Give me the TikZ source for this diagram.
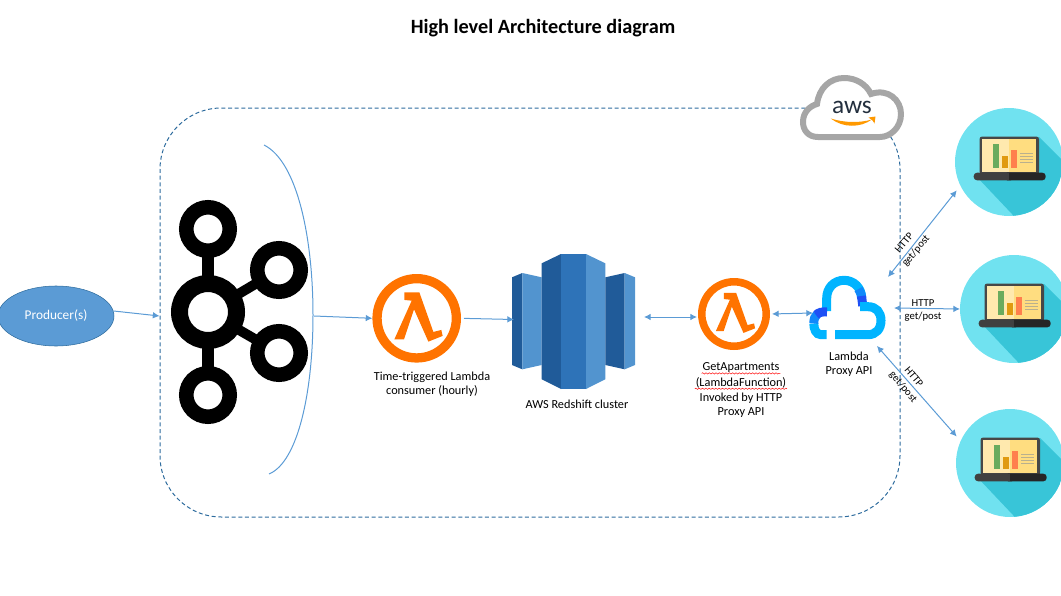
\documentclass[tikz,border=0pt]{standalone}
\usepackage{fontspec}
\setmainfont{Carlito}
\usetikzlibrary{positioning,
        shapes.geometric,
        arrows.meta,
        decorations.pathmorphing}
\usepackage{xcolor}

\definecolor{flowblue}{HTML}{5B9BD5}
\definecolor{boxblue}{HTML}{2E6C9E}
\definecolor{lambdaorange}{HTML}{FF7300}
\definecolor{rsdark}{HTML}{205B99}
\definecolor{rsmid}{HTML}{2E73B8}
\definecolor{rslight}{HTML}{5294CF}
\definecolor{proxycyan}{HTML}{00B4FF}
\definecolor{proxydeep}{HTML}{1E50F5}
\definecolor{proxymid}{HTML}{1088FA}
\definecolor{discteal}{HTML}{70E2F0}
\definecolor{shadeteal}{HTML}{38C5D8}
\definecolor{screenpale}{HTML}{FFE9AE}
\definecolor{screendeep}{HTML}{FFDD80}
\definecolor{bargreen}{HTML}{6AAB5E}
\definecolor{barorange}{HTML}{E09A10}
\definecolor{barred}{HTML}{FF7F4D}
\definecolor{barlines}{HTML}{B9B08E}
\definecolor{awsgrey}{HTML}{A6A6A6}
\definecolor{awsink}{HTML}{232F3E}
\definecolor{awssmile}{HTML}{FF9900}

\tikzset{
    flow/.style={color=flowblue,line width=0.75pt,-{Latex[length=5pt,width=5pt]}},
    bothflow/.style={color=flowblue,line width=0.75pt,{Latex[length=5pt,width=5pt]}-{Latex[length=5pt,width=5pt]}},
    iconlabel/.style={align=center,inner sep=0.5pt,font=\fontsize{9.2}{10.5}\selectfont},
    httplabel/.style={inner sep=0pt,font=\fontsize{8}{9}\selectfont},
    spellmark/.style={color=red,line width=0.35pt,decorate,decoration={snake,amplitude=0.5pt,segment length=2.5pt}},
    iconspot/.style={circle,inner sep=0pt,outer sep=0pt},
    kafkaring/.style={circle,draw=black,fill=white,inner sep=0pt,line width=#1},
    kafkalink/.style={black,shorten <=-2pt,shorten >=-2pt}
}

% lambda disc: name, x, y, radius
\newcommand{\lambdaicon}[4]{
    \node [iconspot,minimum size=#4*1.5pt] (#1) at (#2,#3) {};
    \begin{scope}[shift={(#2,#3)},scale=#4]
        \fill [lambdaorange,even odd rule] (0,0) circle (1) (0,0) circle (0.79);
        \fill [lambdaorange] (-.278,-.586) -- (.060,-.586) -- (.376,.308) -- (.556,.263) -- (.586,.398)
            -- (.263,.526) -- (-.060,-.203) -- (-.286,.474) -- (-.504,.474) -- (-.113,-.398) -- (-.278,-.414) -- cycle;
    \end{scope}
}

% laptop disc: name, x, y
\newcommand{\laptopicon}[3]{
    \node [iconspot,fill=discteal,minimum size=81pt] (#1) at (#2,#3) {};
    \begin{scope}[shift={(#2,#3)}]
        \begin{scope}
            \clip (0,0) circle (54);
            \fill [shadeteal] (-32,15) -- (30,-25) -- (75,20) -- (75,70) -- (20,70) -- cycle;
        \end{scope}
        \fill [black!72,rounded corners=2pt] (-29.5,-25.5) rectangle (30,12);
        \fill [black!72] (-29.5,8) rectangle (30,12);
        \fill [screenpale] (-26.7,-22.7) rectangle (0.3,10);
        \fill [screendeep] (0.3,-22.7) rectangle (27.3,10);
        \fill [bargreen] (-16.3,-18) rectangle (-10,6.3);
        \fill [barorange] (-7,-5.7) rectangle (-0.7,6.3);
        \fill [barred] (1.7,-11.7) rectangle (8,6.3);
        \foreach \liney in {-9,-5.7,-2.7,0}
            \draw [barlines,line width=0.75pt] (11,\liney) -- (23.7,\liney);
        \fill [black!75,rounded corners=2.5pt] (-35.3,10.7) rectangle (5,18.3);
        \fill [black!85,rounded corners=2.5pt] (-5,10.7) rectangle (36.7,18.3);
        \fill [black!75] (-5,10.7) rectangle (0.3,18.3);
    \end{scope}
}

\begin{document}
\begin{tikzpicture}[x=0.75pt,y=-0.75pt]
    \useasboundingbox (0,0) rectangle (1061,596);

    \node [font=\fontsize{15.2}{17}\selectfont\bfseries] (title) at (543,28.5) {High level Architecture diagram};

    \node [draw=boxblue,line width=0.75pt,dash pattern=on 3pt off 2pt,rounded corners=46pt,
        minimum width=555pt,minimum height=306.75pt,inner sep=0pt] (awsbox) at (530,312.5) {};

    % bracket round the stream
    \draw [flowblue,line width=0.75pt] (264,145) .. controls (298,162) and (313,240) .. (313,315)
        .. controls (313,392) and (298,462) .. (269,474);
    \coordinate (streamedge) at (314,316);

    \node [ellipse,draw=boxblue,fill=flowblue,text=white,minimum width=87pt,minimum height=45pt,inner sep=0pt,
        font=\fontsize{10}{11}\selectfont] (producer) at (56,316) {Producer(s)};

    \node [kafkaring=12.75pt,minimum size=42.75pt] (kafkacore) at (208,312) {};
    \node [kafkaring=10.9pt,minimum size=32.6pt] (kafkatop) at (208,229) {};
    \node [kafkaring=10.9pt,minimum size=32.6pt] (kafkaupper) at (279,270) {};
    \node [kafkaring=10.9pt,minimum size=32.6pt] (kafkalower) at (279,353) {};
    \node [kafkaring=10.9pt,minimum size=32.6pt] (kafkabottom) at (208,395) {};
    \draw [kafkalink,line width=9pt] (kafkacore) -- (kafkatop);
    \draw [kafkalink,line width=9pt] (kafkacore) -- (kafkabottom);
    \draw [kafkalink,line width=7.5pt] (kafkacore) -- (kafkaupper);
    \draw [kafkalink,line width=7.5pt] (kafkacore) -- (kafkalower);

    \lambdaicon{lamconsumer}{416.7}{318.3}{44.3}
    \node [iconlabel] (lamconsumertext) at (432,384) {Time-triggered Lambda\\consumer (hourly)};

    % redshift columns
    \fill [rsdark] (512,277.3) -- (522.3,273) -- (522.3,369.3) -- (512,365) -- cycle;
    \fill [rslight] (522.3,273) -- (541.7,277.3) -- (541.7,365) -- (522.3,369.3) -- cycle;
    \fill [rsdark] (541.7,263.3) -- (561,254) -- (561,389) -- (541.7,379.3) -- cycle;
    \fill [rsmid] (561,254) rectangle (586,389);
    \fill [rslight] (586,254) -- (605.3,263.3) -- (605.3,379.3) -- (586,389) -- cycle;
    \fill [rsdark] (605.3,277.3) -- (624.7,273) -- (624.7,369.3) -- (605.3,365) -- cycle;
    \fill [rslight] (624.7,273) -- (635,277.3) -- (635,365) -- (624.7,369.3) -- cycle;
    \coordinate (rswest) at (514,319.5);
    \coordinate (rseast) at (644,317);
    \node [iconlabel] (rstext) at (577,404.5) {AWS Redshift cluster};

    \lambdaicon{lamapi}{734}{314}{36}
    \coordinate (lamapiwest) at (697,317);
    \node [iconlabel] (lamapitexta) at (741,367.5) {GetApartments};
    \node [iconlabel] (lamapitextb) at (741,382.5) {(LambdaFunction)};
    \node [iconlabel] (lamapitextc) at (741,405) {Invoked by HTTP\\Proxy API};
    \draw [spellmark] (lamapitexta.south west) -- (lamapitexta.south east);
    \draw [spellmark] (lamapitextb.south west) -- (lamapitextb.south east);

    % proxy cloud
    \draw [proxycyan,line width=6.75pt] (826.7,311) -- (826.7,298.3) .. controls (826.7,288) and (834,280.3) .. (844,280.3)
        .. controls (854,280.3) and (861.7,288) .. (861.7,298.3);
    \draw [proxymid,line width=6.75pt] (858.5,289) .. controls (860.5,292) and (861.7,295) .. (861.7,298.3);
    \draw [proxydeep,line width=6.75pt] (861.5,296) -- (862.8,306);
    \draw [proxycyan,line width=6.75pt] (860,306.7) -- (868,306.7) .. controls (876,306.7) and (881,312) .. (881,320.5)
        .. controls (881,329) and (876,334.7) .. (868,334.7) -- (835,334.7);
    \draw [proxycyan,line width=6.75pt] (826.7,334.7) -- (821,334.7) .. controls (816,334.7) and (813.8,329) .. (813.8,323.5);
    \draw [proxymid,line width=6.75pt] (813.8,323.5) .. controls (813.8,319) and (815,316) .. (817,314.5);
    \draw [proxydeep,line width=6.75pt] (816,315) .. controls (818.5,312.5) and (822,311.5) .. (827,312);
    \coordinate (proxywest) at (813,313);
    \coordinate (proxyne) at (888,277);
    \coordinate (proxyeast) at (894,308);
    \coordinate (proxyse) at (877,346);
    \node [iconlabel] (proxytext) at (849,364.5) {Lambda\\Proxy API};

    % aws cloud
    \draw [fill=white,draw=awsgrey,line width=4.5pt] (818,137) .. controls (808,137) and (803,130) .. (803,122)
        .. controls (803,112) and (810,106) .. (817,104) .. controls (819,88) and (830,78) .. (844,78)
        .. controls (856,78) and (866,84) .. (871,94) .. controls (888,88) and (901,100) .. (901,114)
        .. controls (901,128) and (890,137) .. (880,137) -- cycle;
    \node [text=awsink,inner sep=0pt,font=\fontsize{19}{20}\selectfont] (awsmark) at (852,107) {aws};
    \fill [awssmile] (830.7,118.5) .. controls (845,123) and (860,123) .. (872,119.5) .. controls (860,128) and (843,128) .. (830.7,118.5) -- cycle;
    \fill [awssmile] (868.5,117.5) -- (875.5,116.5) -- (874.5,123.5) -- (872.5,120.5) -- cycle;

    \laptopicon{laptopa}{1009}{162}
    \laptopicon{laptopb}{1014}{309}
    \laptopicon{laptopc}{1010}{463}

    \draw [flow] (producer.5) -- (awsbox.west |- producer);
    \draw [flow] (streamedge) -- (lamconsumer.west);
    \draw [flow,shorten <=2.25pt] (lamconsumer.east) -- (rswest);
    \draw [bothflow] (rseast) -- (lamapiwest);
    \draw [bothflow,shorten <=1.5pt] (lamapi.east) -- (proxywest);
    \draw [bothflow,shorten >=4.5pt] (proxyne) -- (laptopa.206);
    \draw [bothflow] (proxyeast) -- (laptopb.west);
    \draw [bothflow,shorten >=4.5pt] (proxyse) -- (laptopc.156);

    \node [httplabel,rotate=50] (httpa) at (904,243) {HTTP};
    \node [httplabel,rotate=50] (verba) at (916,251) {get/post};
    \node [httplabel] (httpb) at (923,303) {HTTP};
    \node [httplabel] (verbb) at (923,317) {get/post};
    \node [httplabel,rotate=-50] (httpc) at (914,377) {HTTP};
    \node [httplabel,rotate=-50] (verbc) at (903,387) {get/post};
\end{tikzpicture}
\end{document}
